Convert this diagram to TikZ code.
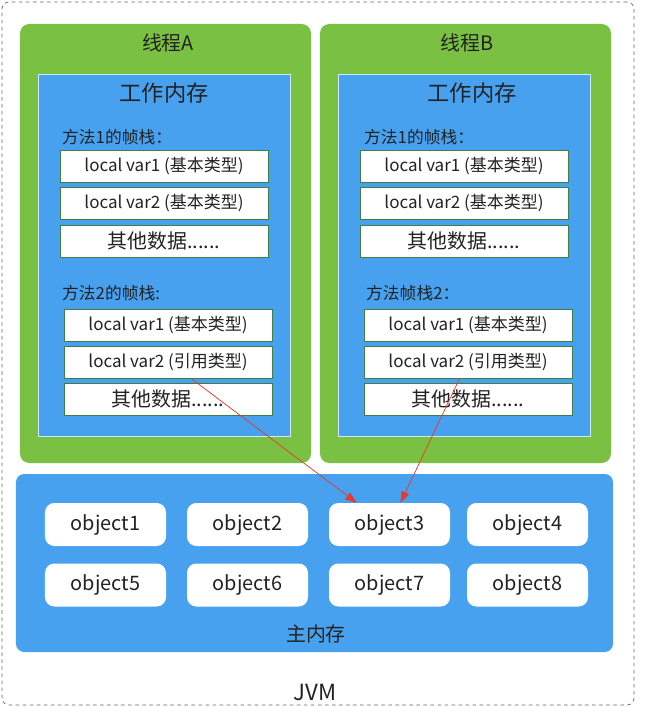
\documentclass[tikz,border=0pt]{standalone}
\usepackage{fontspec}
\setmainfont{Noto Sans CJK SC}
\usetikzlibrary{arrows.meta,calc}
\definecolor{threadgreen}{HTML}{7AC143}
\definecolor{memblue}{HTML}{47A1EE}
\definecolor{slotgreen}{HTML}{3F7F45}
\definecolor{refred}{HTML}{E8392A}
\definecolor{inktext}{HTML}{222222}

\begin{document}
\begin{tikzpicture}[x=0.03cm, y=-0.03cm, text=inktext,
  jvmbox/.style={draw=black!60, dashed, line width=0.6pt, rounded corners=6pt, inner sep=0pt,
    minimum width=18.96cm, minimum height=21.09cm},
  thread/.style={fill=threadgreen, rounded corners=8pt, inner sep=0pt,
    minimum width=8.73cm, minimum height=13.17cm},
  workmem/.style={fill=memblue, draw=white!75!memblue, line width=0.8pt, inner sep=0pt,
    minimum width=7.56cm, minimum height=10.86cm},
  slot/.style={draw=slotgreen, fill=white, line width=0.7pt, inner sep=0pt,
    minimum width=6.24cm, minimum height=0.96cm, font=\fontsize{14.5}{16}\selectfont},
  other/.style={slot, font=\fontsize{17}{19}\selectfont},
  mainmem/.style={fill=memblue, rounded corners=7pt, inner sep=0pt,
    minimum width=17.91cm, minimum height=5.34cm},
  obj/.style={fill=white, rounded corners=8pt, inner sep=0pt,
    minimum width=3.63cm, minimum height=1.29cm, font=\fontsize{17}{19}\selectfont},
  ttl/.style={font=\fontsize{17}{19}\selectfont, inner sep=0pt},
  wmttl/.style={font=\fontsize{19}{21}\selectfont, inner sep=0pt},
  frm/.style={font=\fontsize{14.3}{16}\selectfont, inner sep=0pt, anchor=west},
  ref/.style={-{Triangle[length=3.4mm,width=2.4mm]}, refred, line width=0.6pt},
]
\useasboundingbox (0,0) rectangle (647,707);
\node[jvmbox] (jvm) at (318,353.5) {};
% --- thread A ---
\node[thread] (ta) at (165.5,243.5) {};
\node[ttl] (taname) at (168,43) {线程A};
\node[workmem] (wma) at (164,255) {};
\node[wmttl] (wmaname) at (164,93) {工作内存};
\node[frm] (fa1) at (62,137) {方法1的帧栈：};
\node[slot] (a1v1) at (164,166) {local var1 (基本类型)};
\node[slot] (a1v2) at (164,203) {local var2 (基本类型)};
\node[other] (a1ot) at (164,241) {其他数据......};
\node[frm] (fa2) at (62,293) {方法2的帧栈:};
\node[slot] (a2v1) at (168,325) {local var1 (基本类型)};
\node[slot] (a2v2) at (168,362) {local var2 (引用类型)};
\node[other] (a2ot) at (168,399) {其他数据......};
% --- thread B ---
\node[thread] (tb) at (465.5,243.5) {};
\node[ttl] (tbname) at (467,43) {线程B};
\node[workmem] (wmb) at (464,255) {};
\node[wmttl] (wmbname) at (472,93) {工作内存};
\node[frm] (fb1) at (364,137) {方法1的帧栈：};
\node[slot] (b1v1) at (464,166) {local var1 (基本类型)};
\node[slot] (b1v2) at (464,203) {local var2 (基本类型)};
\node[other] (b1ot) at (464,241) {其他数据......};
\node[frm] (fb2) at (366,293) {方法帧栈2：};
\node[slot] (b2v1) at (468,325) {local var1 (基本类型)};
\node[slot] (b2v2) at (468,362) {local var2 (引用类型)};
\node[other] (b2ot) at (468,399) {其他数据......};
% --- main memory ---
\node[mainmem] (mm) at (314.5,563) {};
\foreach \i/\x/\y in {1/105.5/524.5, 2/247.5/524.5, 3/389.5/524.5, 4/527.5/524.5,
                      5/105.5/585, 6/247.5/585, 7/389.5/585, 8/527.5/585}
  \node[obj] (obj\i) at (\x,\y) {object\i};
\node[ttl] (mmname) at (316,634) {主内存};
\node[font=\fontsize{19}{21}\selectfont, inner sep=0pt] (jvmname) at (315,692) {JVM};
% --- references ---
\draw[ref] ($(a2v2.south west)!0.61!(a2v2.south east)$) -- ($(obj3.north west)!0.23!(obj3.north east)$);
\draw[ref] ($(b2v2.south west)!0.46!(b2v2.south east)$) -- ($(obj3.north west)!0.59!(obj3.north east)$);
\end{tikzpicture}
\end{document}
